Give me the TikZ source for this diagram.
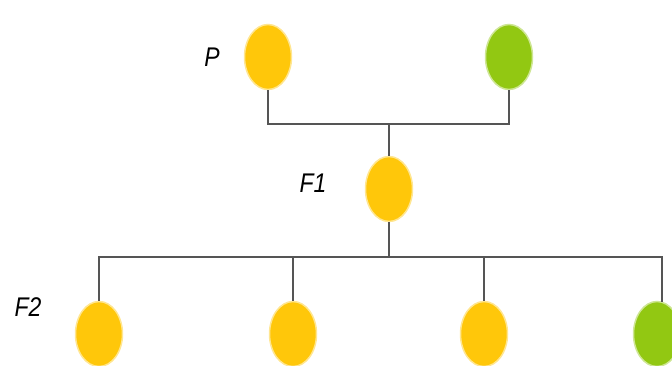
\documentclass[tikz,border=0pt]{standalone}
\usepackage{fontspec}
\setmainfont{Liberation Sans}
\usetikzlibrary{shapes.geometric}
\definecolor{pyel}{HTML}{FFC70A}
\definecolor{pgrn}{HTML}{92C812}
\definecolor{lnc}{HTML}{555555}
\tikzset{
  x=1pt,y=1pt,
  pea/.style={ellipse,inner sep=0pt,minimum width=47pt,minimum height=65pt,draw=#1!45,line width=1.5pt,fill=#1},
  lbl/.style={font=\fontsize{27}{27}\selectfont\itshape,inner sep=0pt,xscale=0.85},
  conn/.style={draw=lnc,line width=1.8pt}
}
\begin{document}
\begin{tikzpicture}
\useasboundingbox (0,0) rectangle (672,365);
\clip (0,0) rectangle (672,365);
\node[pea=pyel] (P) at (268,308) {};
\node[pea=pgrn] (G) at (509,308) {};
\node[pea=pyel] (F1) at (389,176) {};
\node[pea=pyel] (a) at (99,31) {};
\node[pea=pyel] (b) at (293,31) {};
\node[pea=pyel] (c) at (484,31) {};
\node[pea=pgrn] (d) at (657,31) {};
\node[lbl,transform shape] (lP) at (212,308) {P};
\node[lbl,transform shape] (lF1) at (313,182) {F1};
\node[lbl,transform shape] (lF2) at (28,58) {F2};
\coordinate (j1) at (389,241);
\coordinate (j2) at (389,108);
\coordinate (dtop) at (662,63);
\draw[conn] (P.south) |- (j1) -| (G.south);
\draw[conn] (j1) -- (F1.north);
\draw[conn] (F1.south) -- (j2);
\draw[conn] (a.north) |- (j2) -| (dtop);
\draw[conn] (b.north) -- (b.north |- j2);
\draw[conn] (c.north) -- (c.north |- j2);
\end{tikzpicture}
\end{document}
